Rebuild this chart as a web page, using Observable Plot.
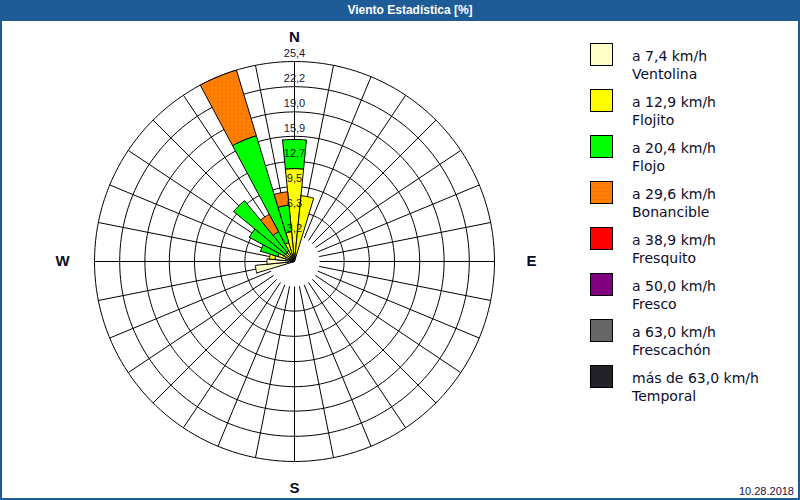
<!DOCTYPE html>
<html>
<head>
<meta charset="utf-8">
<script src="https://cdn.jsdelivr.net/npm/d3@7"></script>
<script src="https://cdn.jsdelivr.net/npm/@observablehq/plot@0.6"></script>
<style>
  html, body { margin: 0; padding: 0; background: #fff; }
  #frame { position: relative; width: 800px; height: 500px; overflow: hidden; background: #fff; }
  #title { position: absolute; left: 0; top: 0; width: 820px; height: 21px; background: #1d5c97; color: #fff;
           font: bold 12px "Liberation Sans", Arial, sans-serif; line-height: 21px; text-align: center; }
  .bd { position: absolute; background: #1d5c97; }
  #chart { position: absolute; left: 0; top: 20px; }
  #legend { position: absolute; left: 590px; top: 43px; font-family: "DejaVu Sans", sans-serif; font-size: 14px; color: #0c0c2a; }
  .item { position: absolute; left: 0; width: 210px; height: 46px; }
  .sw { position: absolute; left: 0; top: 0; width: 21px; height: 21px; border: 1px solid #000; }
  .l1 { position: absolute; left: 42px; top: 5px; white-space: nowrap; line-height: 17px; }
  .l2 { position: absolute; left: 42px; top: 23px; white-space: nowrap; line-height: 17px; }
  #date { position: absolute; right: 6px; bottom: 3px; font: 11px "Liberation Sans", Arial, sans-serif; color: #14143c; }
</style>
</head>
<body>
<div id="frame">
  <div id="title">Viento Estadística [%]</div>
  <div class="bd" style="left:0;top:0;width:2px;height:500px"></div>
  <div class="bd" style="right:0;top:0;width:2px;height:500px"></div>
  <div class="bd" style="left:0;bottom:0;width:800px;height:2px"></div>
  <div id="chart"></div>
  <div id="legend"></div>
  <div id="date">10.28.2018</div>
</div>
<script>
// ---- data ----
// 32 directions, degrees clockwise from north
const dirAngles = [0, 11.25, 22.5, 33.75, 45, 56.25, 67.5, 78.75, 90, 101.25, 112.5, 123.75,
  135, 146.25, 157.5, 168.75, 180, 191.25, 202.5, 213.75, 225, 236.25, 247.5, 258.75,
  270, 281.25, 292.5, 303.75, 315, 326.25, 337.5, 348.75];
// frequency (%) per speed class and direction
const ventolina  = [0.8, 0.6, 0, 0, 0, 0, 0, 0, 0, 0, 0, 0, 0, 0, 0, 0, 0, 0, 0, 0, 0, 0, 0, 5.0, 3.5, 2.5, 1.2, 0.6, 0.5, 0.4, 0.5, 0.5];
const flojito    = [11.0, 7.8, 0, 0, 0, 0, 0, 0, 0, 0, 0, 0, 0, 0, 0, 0, 0, 0, 0, 0, 0, 0, 0, 0, 0, 0.7, 1.0, 0.9, 1.0, 1.1, 2.0, 3.3];
const flojo      = [3.7, 0, 0, 0, 0, 0, 0, 0, 0, 0, 0, 0, 0, 0, 0, 0, 0, 0, 0, 0, 0, 0, 0, 0, 0, 0, 2.3, 5.0, 8.5, 2.8, 14.2, 3.4];
const bonancible = [0, 0, 0, 0, 0, 0, 0, 0, 0, 0, 0, 0, 0, 0, 0, 0, 0, 0, 0, 0, 0, 0, 0, 0, 0, 0, 0, 0, 0, 2.5, 8.7, 1.7];
const fresquito  = [0, 0, 0, 0, 0, 0, 0, 0, 0, 0, 0, 0, 0, 0, 0, 0, 0, 0, 0, 0, 0, 0, 0, 0, 0, 0, 0, 0, 0, 0, 0, 0];
const fresco     = [0, 0, 0, 0, 0, 0, 0, 0, 0, 0, 0, 0, 0, 0, 0, 0, 0, 0, 0, 0, 0, 0, 0, 0, 0, 0, 0, 0, 0, 0, 0, 0];
const frescachon = [0, 0, 0, 0, 0, 0, 0, 0, 0, 0, 0, 0, 0, 0, 0, 0, 0, 0, 0, 0, 0, 0, 0, 0, 0, 0, 0, 0, 0, 0, 0, 0];
const temporal   = [0, 0, 0, 0, 0, 0, 0, 0, 0, 0, 0, 0, 0, 0, 0, 0, 0, 0, 0, 0, 0, 0, 0, 0, 0, 0, 0, 0, 0, 0, 0, 0];

const speedLabels = ["a 7,4 km/h", "a 12,9 km/h", "a 20,4 km/h", "a 29,6 km/h", "a 38,9 km/h", "a 50,0 km/h", "a 63,0 km/h", "más de 63,0 km/h"];
const beaufortNames = ["Ventolina", "Flojito", "Flojo", "Bonancible", "Fresquito", "Fresco", "Frescachón", "Temporal"];
const classColors = ["#ffffc8", "#ffff00", "#00ff00", "#ff8000", "#ff0000", "#800080", "#666666", "#222228"];

const ringValues = [3.2, 6.3, 9.5, 12.7, 15.9, 19.0, 22.2, 25.4];
const ringLabels = ["3,2", "6,3", "9,5", "12,7", "15,9", "19,0", "22,2", "25,4"];
const compassLabels = ["N", "E", "S", "W"];
const compassAngles = [0, 90, 180, 270];

// ---- layout ----
const W = 800, H = 480;
const cx = 294, cy = 241, R = 200;
const rMax = ringValues[ringValues.length - 1];
const k = R / rMax;
const rad = a => a * Math.PI / 180;
const px = (r, a) => r * Math.sin(rad(a));
const py = (r, a) => r * Math.cos(rad(a));

const series = [ventolina, flojito, flojo, bonancible, fresquito, fresco, frescachon, temporal];
const halfW = 360 / dirAngles.length / 2;
const wedgePts = series.map(() => []);
dirAngles.forEach((a, i) => {
  let r0 = 0;
  series.forEach((s, c) => {
    const v = s[i];
    if (!v) return;
    const r1 = r0 + v;
    const id = i + "-" + c;
    const n = 6;
    const arc = d3.range(n + 1).map(t => a - halfW + t * 2 * halfW / n);
    const poly = [];
    arc.forEach(t => poly.push({id, x: px(r1, t), y: py(r1, t)}));
    arc.slice().reverse().forEach(t => poly.push({id, x: px(r0, t), y: py(r0, t)}));
    poly.push(poly[0]);
    wedgePts[c].push(...poly);
    r0 = r1;
  });
});

// grid circles (from 2nd ring outward)
const ringPts = [];
ringValues.slice(1).forEach((r, j) => {
  d3.range(0, 361, 2).forEach(t => ringPts.push({id: j, x: px(r, t), y: py(r, t)}));
});
// radial spokes
const spokeAngles = d3.range(0, 360, 360 / 32);
const spokes = spokeAngles.map(a => ({x1: px(ringValues[0], a), y1: py(ringValues[0], a), x2: px(rMax, a), y2: py(rMax, a)}));

const compassOffset = [1.12, 1.185, 1.135, 1.16];

const marks = [
  Plot.line(ringPts, {x: "x", y: "y", z: "id", stroke: "#000", strokeWidth: 1, curve: "linear"}),
  Plot.link(spokes, {x1: "x1", y1: "y1", x2: "x2", y2: "y2", stroke: "#000", strokeWidth: 1}),
  ...wedgePts.map((pts, c) => Plot.line(pts, {x: "x", y: "y", z: "id", fill: c === 3 ? "url(#bonPat)" : classColors[c], stroke: "#000", strokeWidth: 1, curve: "linear", strokeLinejoin: "miter"})),
  Plot.text(ringValues, {x: () => 0, y: d => d, text: (d, i) => ringLabels[i], dy: -8, fontSize: 11, fontFamily: "Liberation Sans, Arial, sans-serif", fill: "#14143c"}),
  Plot.text(compassLabels, {x: (d, i) => px(rMax * compassOffset[i], compassAngles[i]), y: (d, i) => py(rMax * compassOffset[i], compassAngles[i]), text: d => d, fontSize: 15, fontWeight: "bold", fontFamily: "Liberation Sans, Arial, sans-serif", fill: "#0a0a22"})
];

const chart = Plot.plot({
  width: W, height: H, margin: 0,
  x: {domain: [-cx / k, (W - cx) / k], axis: null},
  y: {domain: [-(H - cy) / k, cy / k], range: [H, 0], axis: null},
  style: {background: "transparent", overflow: "visible"},
  marks
});
// orange dotted fill pattern
const ns = "http://www.w3.org/2000/svg";
const defs = document.createElementNS(ns, "defs");
defs.innerHTML = '<pattern id="bonPat" patternUnits="userSpaceOnUse" width="4" height="4"><rect width="4" height="4" fill="#ff8000"/><rect x="1" y="1" width="1" height="1" fill="#e86010"/></pattern>';
chart.insertBefore(defs, chart.firstChild);
document.getElementById("chart").appendChild(chart);

// legend
const leg = document.getElementById("legend");
speedLabels.forEach((s, i) => {
  const it = document.createElement("div");
  it.className = "item";
  it.style.top = (i * 46) + "px";
  const bg = i === 3 ? "background: repeating-linear-gradient(0deg,#ff8000 0 3px,#f57410 3px 4px)" : "background:" + classColors[i];
  it.innerHTML = '<div class="sw" style="' + bg + '"></div><div class="l1">' + s + '</div><div class="l2">' + beaufortNames[i] + '</div>';
  leg.appendChild(it);
});
</script>
</body>
</html>
